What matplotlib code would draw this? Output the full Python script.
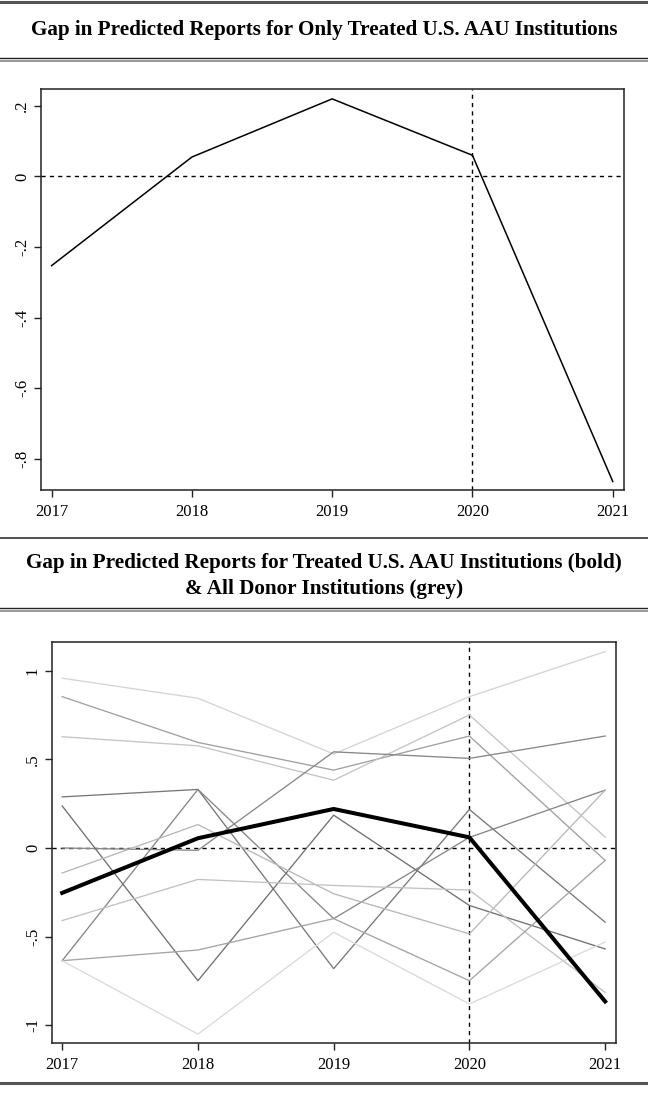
import matplotlib
matplotlib.use("Agg")
import matplotlib.pyplot as plt
from matplotlib.lines import Line2D

plt.rcParams['font.family'] = ['Liberation Serif', 'DejaVu Serif']

years = [2017, 2018, 2019, 2020, 2021]
treated = [-0.253, 0.055, 0.22, 0.06, -0.865]

donor_01 = [0.957, 0.844, 0.530, 0.853, 1.107]
donor_02 = [0.853, 0.595, 0.439, 0.631, -0.070]
donor_03 = [0.627, 0.576, 0.382, 0.750, 0.062]
donor_04 = [0.000, -0.013, 0.542, 0.505, 0.631]
donor_05 = [0.288, 0.330, -0.680, 0.217, -0.418]
donor_06 = [-0.635, 0.330, -0.398, 0.060, 0.326]
donor_07 = [0.237, -0.748, 0.185, -0.324, -0.569]
donor_08 = [-0.141, 0.132, -0.258, -0.484, 0.326]
donor_09 = [-0.409, -0.177, -0.211, -0.237, -0.814]
donor_10 = [-0.635, -0.575, -0.398, -0.748, -0.070]
donor_11 = [-0.635, -1.049, -0.475, -0.879, -0.530]
donors = [donor_01, donor_02, donor_03, donor_04, donor_05, donor_06,
          donor_07, donor_08, donor_09, donor_10, donor_11]
donor_greys = ['#d4d4d4', '#a0a0a0', '#c4c4c4', '#888888', '#787878', '#868686',
               '#707070', '#b8b8b8', '#c2c2c2', '#a4a4a4', '#dadada']

top_yticks = [0.2, 0.0, -0.2, -0.4, -0.6, -0.8]
top_yticklabels = ['.2', '0', '-.2', '-.4', '-.6', '-.8']
bot_yticks = [1.0, 0.5, 0.0, -0.5, -1.0]
bot_yticklabels = ['1', '.5', '0', '-.5', '-1']

title_top = 'Gap in Predicted Reports for Only Treated U.S. AAU Institutions'
title_bot = 'Gap in Predicted Reports for Treated U.S. AAU Institutions (bold)\n& All Donor Institutions (grey)'

W, H = 648, 1093
fig = plt.figure(figsize=(W / 100, H / 100), dpi=100)


def style_axes(ax, yticks, ylabels, ylim):
    ax.set_xlim(2016.925, 2021.08)
    ax.set_ylim(*ylim)
    ax.set_xticks(years)
    ax.set_xticklabels([str(y) for y in years], fontsize=12)
    ax.set_yticks(yticks)
    ax.set_yticklabels(ylabels, fontsize=12, rotation=90, va='center')
    ax.tick_params(direction='out', length=5, width=1, color='#222222')
    ax.tick_params(axis='x', pad=5)
    ax.tick_params(axis='y', pad=3)
    for s in ax.spines.values():
        s.set_linewidth(1.1)
        s.set_color('#222222')
    ax.axhline(0, color='black', lw=1.0, ls=(0, (3, 3)), zorder=1)
    ax.axvline(2020, color='black', lw=1.0, ls=(0, (3, 3)), zorder=1)


# top panel
ax1 = fig.add_axes([41 / W, 1 - 490 / H, 583 / W, 401 / H])
ax1.plot(years, treated, color='black', lw=1.1, zorder=3)
style_axes(ax1, top_yticks, top_yticklabels, (-0.889, 0.248))

# bottom panel
ax2 = fig.add_axes([52 / W, 1 - 1043 / H, 564 / W, 401 / H])
for d, c in zip(donors, donor_greys):
    ax2.plot(years, d, color=c, lw=0.95, zorder=2)
ax2.plot(years, treated, color='black', lw=2.9, zorder=4, solid_joinstyle='miter')
style_axes(ax2, bot_yticks, bot_yticklabels, (-1.099, 1.161))

# titles
fig.text(0.5, 1 - 30 / H, title_top, ha='center', va='center', fontsize=15.2, fontweight='bold')
fig.text(0.5, 1 - 576 / H, title_bot, ha='center', va='center', fontsize=15.2, fontweight='bold',
         linespacing=1.4)


# separator rules
def hrule(y, lw, color):
    fig.add_artist(Line2D([0, 1], [1 - y / H, 1 - y / H], lw=lw, color=color,
                          transform=fig.transFigure))


hrule(1.5, 2.2, '#555555')
hrule(57.5, 1.0, '#222222')
hrule(60.5, 1.2, '#888888')
hrule(538, 1.2, '#333333')
hrule(607.5, 1.0, '#222222')
hrule(610.5, 1.2, '#888888')
hrule(1082.5, 2.2, '#555555')

fig.savefig('out.png', dpi=100)
